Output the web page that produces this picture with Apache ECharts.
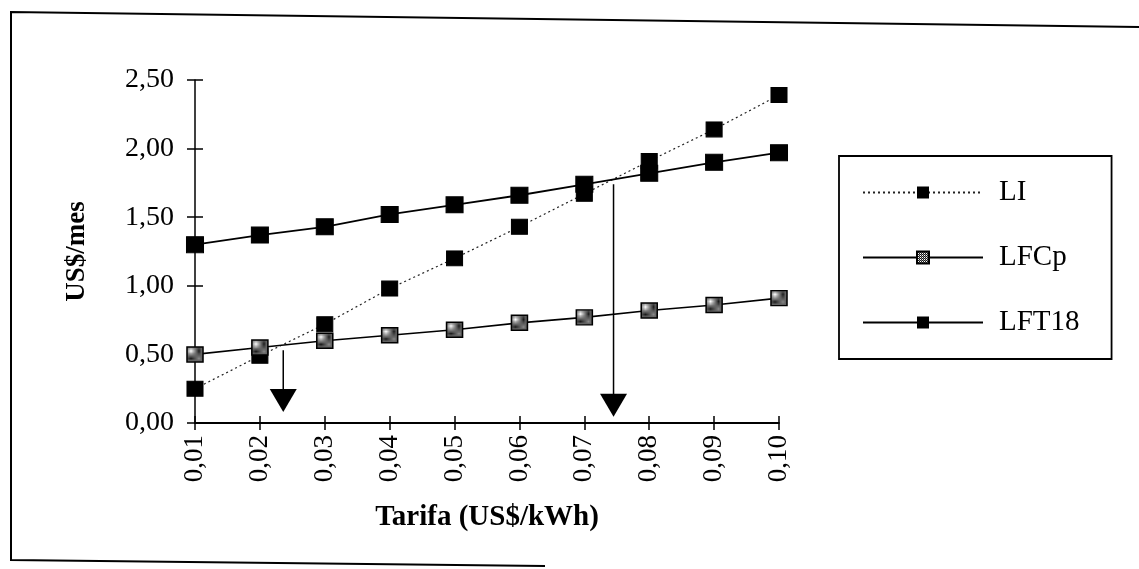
<!DOCTYPE html>
<html><head><meta charset="utf-8">
<script src="https://cdn.jsdelivr.net/npm/echarts@6/dist/echarts.min.js"></script>
<style>html,body{margin:0;padding:0;background:#fff}#c{width:1139px;height:569px}</style>
</head><body><div id="c"></div>
<script>
var tariffs = [0.01,0.02,0.03,0.04,0.05,0.06,0.07,0.08,0.09,0.10];
var LI    = [0.25,0.49,0.72,0.98,1.20,1.43,1.67,1.91,2.14,2.39];
var LFCp  = [0.50,0.55,0.60,0.64,0.68,0.73,0.77,0.82,0.86,0.91];
var LFT18 = [1.30,1.37,1.43,1.52,1.59,1.66,1.74,1.82,1.90,1.97];
var yTicks = [0,0.5,1,1.5,2,2.5];
// crossover arrows: [x, line start y, arrow tip y]
var arrow1 = [0.0236, 0.53, 0.08];
var arrow2 = [0.0745, 1.74, 0.045];

function pairs(ys){ return tariffs.map(function(t,i){ return [t, ys[i]]; }); }
function fmt(v){ return v.toFixed(2).replace('.', ','); }

var pc = document.createElement('canvas'); pc.width = 2; pc.height = 2;
var g = pc.getContext('2d');
g.fillStyle = '#1a1a1a'; g.fillRect(0,0,2,2);
g.fillStyle = '#ffffff'; g.fillRect(1,1,1,1);
g.fillStyle = '#888888'; g.fillRect(0,0,1,1);

var serif = '"Liberation Serif", "DejaVu Serif", serif';
var chart = echarts.init(document.getElementById('c'));
var AH = 23; // arrow head height px
function arrowSeries(a){
  return [{
    type:'line', data:[[a[0],a[1]],[a[0],a[2]+0.1]], symbol:'none', silent:true,
    lineStyle:{color:'#000', width:1.5}, z:3
  },{
    type:'scatter', data:[[a[0], a[2]]], symbol:'triangle', symbolRotate:180,
    symbolSize:[27,AH], symbolOffset:[0,-AH/2], itemStyle:{color:'#000', opacity:1}, silent:true, z:4
  }];
}
var series = [
  {name:'LI', type:'line', data:pairs(LI), symbol:'rect', symbolSize:[16,15],
   lineStyle:{color:'#222', width:1.2, type:[2,3]}, itemStyle:{color:'#000', borderColor:'#000'}, z:5},
  {name:'LFCp', type:'line', data:pairs(LFCp), symbol:'rect', symbolSize:[16,15],
   lineStyle:{color:'#000', width:1.6}, itemStyle:{color:{image:pc, repeat:'repeat'}, borderColor:'#000', borderWidth:1.5}, z:5},
  {name:'LFT18', type:'line', data:pairs(LFT18), symbol:'rect', symbolSize:[17,16],
   lineStyle:{color:'#000', width:1.8}, itemStyle:{color:'#000', borderColor:'#000'}, z:5}
].concat(arrowSeries(arrow1), arrowSeries(arrow2));

var tickStyle = {color:'#000', width:1.5};
chart.setOption({
  animation:false,
  backgroundColor:'#fff',
  grid:{left:195, right:360, top:80, bottom:146},
  xAxis:[{type:'value', min:0.01, max:0.10, interval:0.01,
    name:'Tarifa (US$/kWh)', nameLocation:'middle', nameGap:80,
    nameTextStyle:{fontFamily:serif, fontWeight:'bold', fontSize:29, color:'#000'},
    axisLine:{lineStyle:{color:'#000', width:1.8}},
    axisTick:{show:true, length:7, lineStyle:tickStyle},
    splitLine:{show:false},
    axisLabel:{rotate:90, formatter:function(v){return fmt(v);}, fontFamily:serif, fontSize:27, color:'#000', margin:12}
  },{type:'value', min:0.01, max:0.10, interval:0.01, position:'bottom',
    axisLine:{show:false}, axisTick:{show:true, inside:true, length:7, lineStyle:tickStyle},
    axisLabel:{show:false}, splitLine:{show:false}}],
  yAxis:[{type:'value', min:yTicks[0], max:yTicks[yTicks.length-1], interval:0.5,
    name:'US$/mes', nameLocation:'middle', nameGap:104, nameRotate:90,
    nameTextStyle:{fontFamily:serif, fontWeight:'bold', fontSize:27, color:'#000'},
    axisLine:{show:true, lineStyle:{color:'#000', width:1.5}},
    axisTick:{show:true, length:8, lineStyle:tickStyle},
    splitLine:{show:false},
    axisLabel:{formatter:function(v){return fmt(v);}, fontFamily:serif, fontSize:28, color:'#000', margin:21}
  },{type:'value', min:yTicks[0], max:yTicks[yTicks.length-1], interval:0.5, position:'left',
    axisLine:{show:false}, axisTick:{show:true, inside:true, length:8, lineStyle:tickStyle},
    axisLabel:{show:false}, splitLine:{show:false}}],
  legend:{data:['LI','LFCp','LFT18'], orient:'vertical', left:839, top:156,
    padding:[22,32,22,23], itemWidth:120, itemHeight:15, itemGap:36,
    borderColor:'#000', borderWidth:1.8, borderRadius:0,
    textStyle:{fontFamily:serif, fontSize:29, color:'#000', padding:[0,0,0,11]}},
  graphic:[
    {type:'polyline', shape:{points:[[545,566],[11,560],[11,12],[1139,27]]}, style:{stroke:'#000', lineWidth:2, fill:null}}
  ],
  series:series
});
</script></body></html>
